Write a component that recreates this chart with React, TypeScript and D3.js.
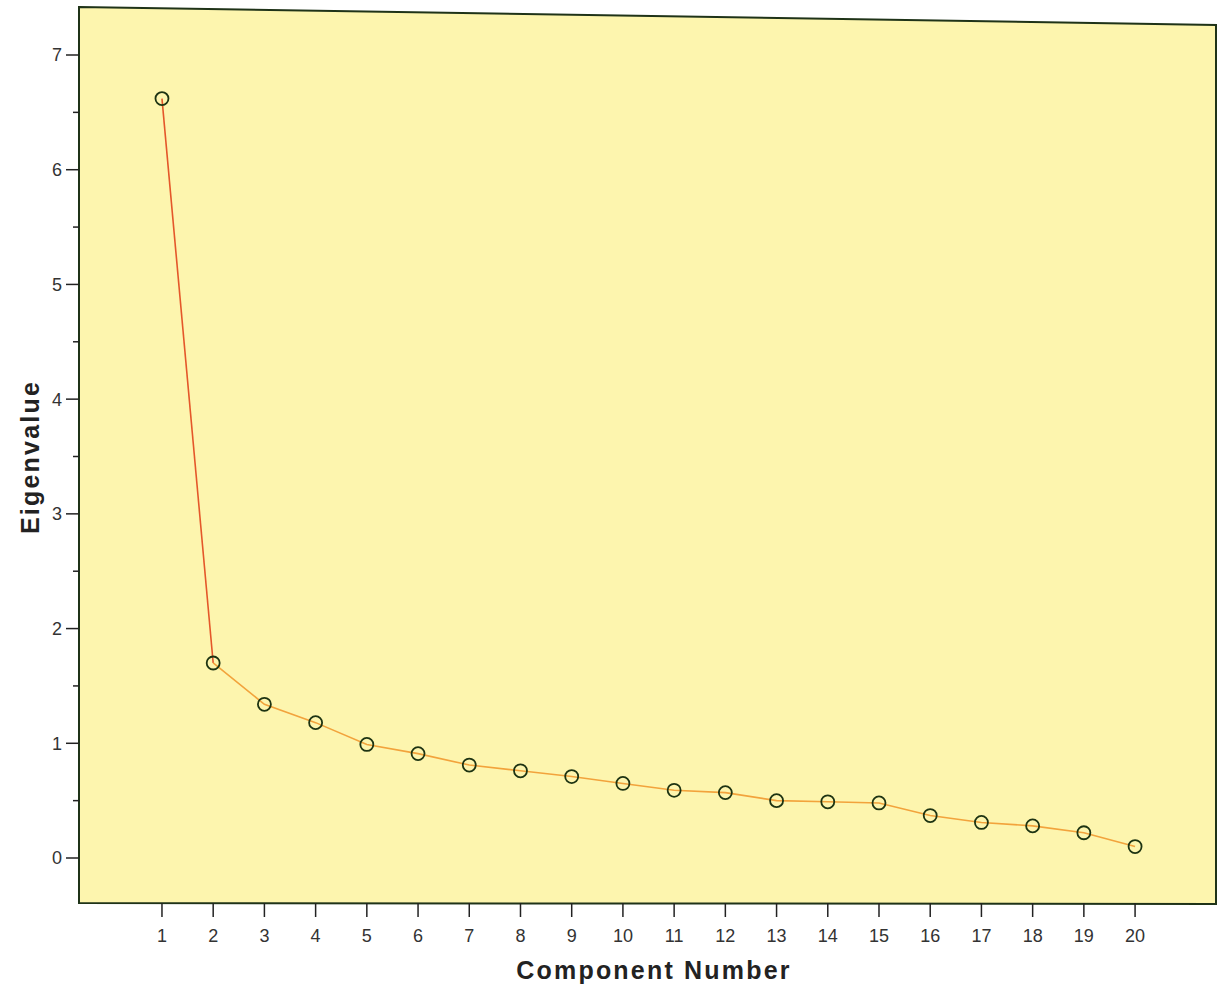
import React from "react";
import * as d3 from "d3";

// Scree plot: eigenvalue of each extracted component
const components = [1, 2, 3, 4, 5, 6, 7, 8, 9, 10, 11, 12, 13, 14, 15, 16, 17, 18, 19, 20];
const eigenvalues = [6.62, 1.70, 1.34, 1.18, 0.99, 0.91, 0.81, 0.76, 0.71, 0.65, 0.59, 0.57, 0.50, 0.49, 0.48, 0.37, 0.31, 0.28, 0.22, 0.10];
const yMajorTicks = [0, 1, 2, 3, 4, 5, 6, 7];
const yMinorTicks = [0.5, 1.5, 2.5, 3.5, 4.5, 5.5, 6.5];

const W = 1218;
const H = 988;
const left = 79;
const right = 1216;
const bottom = 903;
const topLeft = 7;
const topRight = 25;

const font = "'Liberation Sans', Arial, sans-serif";

export default function App() {
  const x = d3.scaleLinear().domain([-0.62, 21.58]).range([left, right]);
  const y = d3.scaleLinear().domain([0, 7]).range([858, 55]);

  const pts = components.map((c, i) => ({ c, v: eigenvalues[i] }));
  const line = d3
    .line<{ c: number; v: number }>()
    .x((d) => x(d.c))
    .y((d) => y(d.v));

  const frame = `M${left},${topLeft} L${right},${topRight} L${right},${bottom + 1} L${left},${bottom} Z`;

  return (
    <div style={{ position: "absolute", left: 0, top: 0 }}>
      <svg width={W} height={H} style={{ display: "block", background: "#ffffff" }}>
        <path d={frame} fill="#fdf5ae" stroke="none" />

        {/* steep first drop and the flattening tail */}
        <path d={line(pts.slice(0, 2)) || ""} fill="none" stroke="#e4572a" strokeWidth={1.6} />
        <path d={line(pts.slice(1)) || ""} fill="none" stroke="#f2a33c" strokeWidth={1.6} />

        {pts.map((d) => (
          <circle
            key={d.c}
            cx={x(d.c)}
            cy={y(d.v)}
            r={6.5}
            fill="none"
            stroke="#1d3312"
            strokeWidth={1.8}
          />
        ))}

        <path d={frame} fill="none" stroke="#1f3318" strokeWidth={2} />

        {/* y axis ticks */}
        {yMajorTicks.map((t) => (
          <g key={`y${t}`}>
            <line x1={left - 13} x2={left} y1={y(t)} y2={y(t)} stroke="#222" strokeWidth={1.5} />
            <text
              x={left - 17}
              y={y(t)}
              dy="0.36em"
              textAnchor="end"
              fontFamily={font}
              fontSize={18}
              fill="#333"
            >
              {t}
            </text>
          </g>
        ))}
        {yMinorTicks.map((t) => (
          <line key={`ym${t}`} x1={left - 6} x2={left} y1={y(t)} y2={y(t)} stroke="#222" strokeWidth={1.5} />
        ))}

        {/* x axis ticks */}
        {components.map((c) => (
          <g key={`x${c}`}>
            <line x1={x(c)} x2={x(c)} y1={bottom} y2={bottom + 14} stroke="#222" strokeWidth={1.5} />
            <text
              x={x(c)}
              y={bottom + 39}
              textAnchor="middle"
              fontFamily={font}
              fontSize={18}
              fill="#333"
            >
              {c}
            </text>
          </g>
        ))}

        <text
          x={654}
          y={979}
          textAnchor="middle"
          fontFamily={font}
          fontSize={25}
          fontWeight="bold"
          letterSpacing={2.2}
          fill="#222"
        >
          Component Number
        </text>
        <text
          transform={`translate(39,457) rotate(-90)`}
          textAnchor="middle"
          fontFamily={font}
          fontSize={25}
          fontWeight="bold"
          letterSpacing={2.2}
          fill="#222"
        >
          Eigenvalue
        </text>
      </svg>
    </div>
  );
}
